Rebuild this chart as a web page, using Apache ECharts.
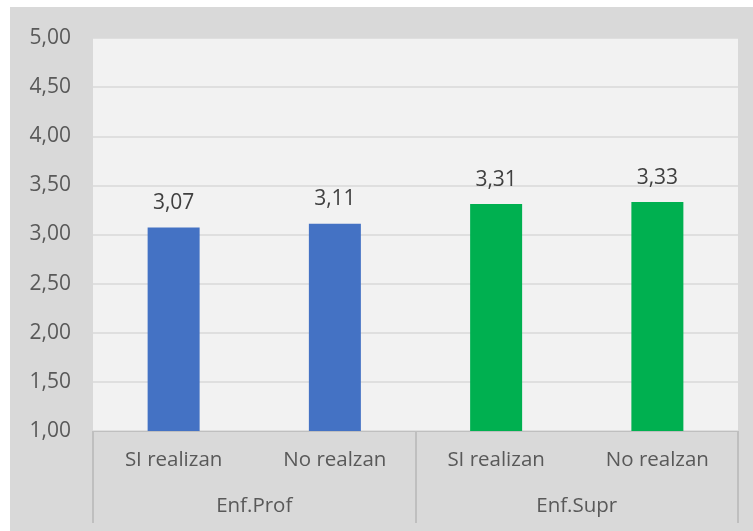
<!DOCTYPE html>
<html><head><meta charset="utf-8">
<script src="https://cdn.jsdelivr.net/npm/echarts@6/dist/echarts.min.js"></script>
<style>html,body{margin:0;padding:0;background:#fff}#c{width:753px;height:531px}</style>
</head><body><div id="c"></div>
<script>
const categories = ["SI realizan", "No realzan", "SI realizan", "No realzan"];
const groups = ["Enf.Prof", "Enf.Supr"];
const values = [3.07, 3.11, 3.31, 3.33];
const groupOfBar = [0, 0, 1, 1];
const yTicks = [1, 1.5, 2, 2.5, 3, 3.5, 4, 4.5, 5];

const groupColors = ["#4472C4", "#00B050"];
const font = "'Open Sans', sans-serif";
const fmt = v => v.toFixed(2).replace('.', ',');

const chart = echarts.init(document.getElementById('c'));
chart.setOption({
  animation: false,
  backgroundColor: '#ffffff',
  graphic: [{type: 'rect', left: 10, top: 7, z: -100, silent: true,
    shape: {width: 743, height: 524}, style: {fill: '#d9d9d9'}}],
  grid: {left: 93, right: 15, top: 38, bottom: 100, show: true,
    backgroundColor: '#f2f2f2', borderWidth: 0, containLabel: false},
  xAxis: [{
    type: 'category', data: categories, position: 'bottom',
    axisLine: {show: true, lineStyle: {color: '#bfbfbf', width: 1}},
    axisTick: {show: false},
    axisLabel: {color: '#595959', fontFamily: font, fontSize: 20.5, margin: 19}
  }, {
    type: 'category', data: groups, position: 'bottom',
    axisLine: {show: false},
    axisTick: {show: true, length: 92, lineStyle: {color: '#bfbfbf', width: 2}},
    axisLabel: {color: '#595959', fontFamily: font, fontSize: 20.5, margin: 65}
  }],
  yAxis: {
    type: 'value', min: 1, max: 5, interval: 0.5,
    axisLine: {show: false}, axisTick: {show: false},
    splitLine: {lineStyle: {color: '#d9d9d9', width: 1.5}},
    axisLabel: {color: '#595959', fontFamily: font, fontSize: 21, margin: 22,
      formatter: v => fmt(v)}
  },
  series: [{
    type: 'bar', xAxisIndex: 0, barWidth: 52,
    data: values.map((v, i) => ({value: v, itemStyle: {color: groupColors[groupOfBar[i]]}})),
    label: {show: true, position: 'top', distance: 14, color: '#404040',
      fontFamily: font, fontSize: 21, formatter: p => fmt(p.value)}
  }]
});
</script></body></html>
